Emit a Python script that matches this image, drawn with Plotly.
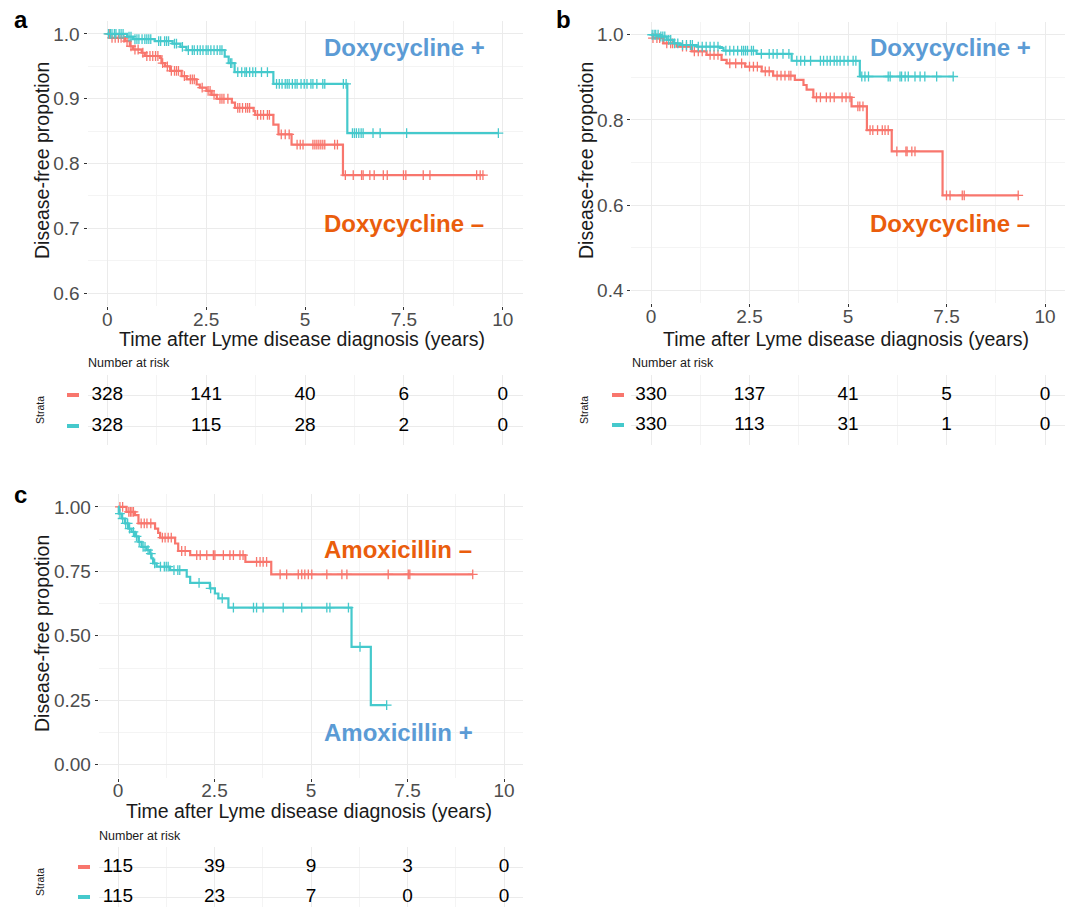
import plotly.graph_objects as go

# ---------------- data ----------------
RED = "#F8766D"
TEAL = "#45C9CC"
BLUE_TXT = "#5B9BD5"
ORANGE_TXT = "#EA5D0C"

x_ticks = [0, 2.5, 5, 7.5, 10]

# Panel a
a_minus_t = [0, 0.07, 0.45, 0.57, 0.65, 0.87, 0.95, 1.33, 1.37, 1.46, 1.59, 1.88, 2.01, 2.26, 2.34,
             2.51, 2.64, 2.77, 3.15, 3.23, 3.70, 3.74, 4.20, 4.33, 4.66, 5.96]
a_minus_s = [1.0, 0.994, 0.989, 0.981, 0.976, 0.971, 0.966, 0.963, 0.955, 0.950, 0.943, 0.935, 0.930,
             0.922, 0.917, 0.912, 0.906, 0.900, 0.894, 0.886, 0.881, 0.875, 0.860, 0.845, 0.829, 0.782]
a_minus_end = 9.50
a_minus_cens = [0.05, 0.12, 0.2, 0.28, 0.35, 0.42, 0.5, 0.6, 0.7, 0.78, 0.9, 1.0, 1.08, 1.15, 1.22, 1.28,
                1.4, 1.52, 1.62, 1.7, 1.75, 1.8, 1.95, 2.1, 2.15, 2.2, 2.4, 2.55, 2.6, 2.7, 2.85, 2.9,
                2.95, 3.05, 3.3, 3.35, 3.42, 3.5, 3.55, 3.6, 3.8, 3.88, 3.95, 4.05, 4.1, 4.4, 4.5, 4.6,
                4.8, 4.88, 4.95, 5.2, 5.25, 5.3, 5.35, 5.4, 5.45, 5.5, 5.75, 5.82, 6.02, 6.22, 6.43,
                6.47, 6.64, 6.75, 6.98, 7.08, 7.49, 7.55, 7.99, 8.16, 9.34, 9.43, 9.5]

a_plus_t = [0, 0.5, 0.65, 1.2, 1.65, 1.85, 2.0, 2.97, 3.07, 3.22, 4.2, 6.07]
a_plus_s = [1.0, 0.996, 0.992, 0.989, 0.985, 0.980, 0.975, 0.965, 0.955, 0.941, 0.923, 0.847]
a_plus_end = 9.89
a_plus_cens = [0.03, 0.08, 0.12, 0.18, 0.22, 0.3, 0.35, 0.4, 0.55, 0.6, 0.7, 0.75, 0.8, 0.88, 0.95,
               1.0, 1.05, 1.1, 1.3, 1.35, 1.45, 1.5, 1.55, 1.7, 1.75, 1.9, 2.05, 2.15, 2.2, 2.28,
               2.35, 2.42, 2.5, 2.55, 2.62, 2.7, 2.78, 2.85, 2.9, 3.12, 3.15, 3.3, 3.4, 3.48, 3.52,
               3.6, 3.68, 3.75, 3.9, 4.05, 4.28, 4.35, 4.42, 4.5, 4.55, 4.6, 4.68, 4.75, 4.8, 4.9,
               4.98, 5.05, 5.15, 5.2, 5.3, 5.45, 5.5, 5.97, 6.04, 6.2, 6.25, 6.3, 6.36, 6.42, 6.47,
               6.72, 6.9, 7.57, 9.89]
a_risk_minus = [328, 141, 40, 6, 0]
a_risk_plus = [328, 115, 28, 2, 0]

# Panel b
b_minus_t = [0, 0.05, 0.31, 0.65, 1.03, 1.41, 1.79, 1.92, 2.39, 2.81, 3.10, 3.65, 3.87, 3.95, 4.12,
             5.09, 5.48, 6.11, 7.40]
b_minus_s = [1.0, 0.992, 0.980, 0.972, 0.961, 0.953, 0.941, 0.933, 0.925, 0.914, 0.904, 0.894, 0.882,
             0.871, 0.853, 0.832, 0.776, 0.726, 0.623]
b_minus_end = 9.32
b_minus_cens = [0.05, 0.15, 0.22, 0.4, 0.5, 0.55, 0.8, 0.9, 1.1, 1.2, 1.3, 1.5, 1.6, 1.7, 2.0, 2.15,
                2.3, 2.5, 2.6, 2.7, 2.9, 3.0, 3.2, 3.3, 3.4, 3.5, 3.55, 4.2, 4.3, 4.45, 4.55, 4.65,
                4.85, 4.95, 5.05, 5.25, 5.3, 5.38, 5.56, 5.63, 5.75, 5.87, 5.94, 6.02, 6.24, 6.47,
                6.5, 6.62, 6.7, 7.5, 7.59, 7.9, 7.95, 9.32]

b_plus_t = [0, 0.23, 0.40, 0.57, 0.74, 1.16, 1.75, 1.84, 2.68, 3.57, 5.30]
b_plus_s = [1.0, 0.996, 0.988, 0.980, 0.976, 0.972, 0.969, 0.963, 0.955, 0.939, 0.902]
b_plus_end = 7.67
b_plus_cens = [0.03, 0.08, 0.12, 0.18, 0.25, 0.3, 0.35, 0.45, 0.5, 0.6, 0.68, 0.8, 0.9, 1.0, 1.05,
               1.2, 1.3, 1.4, 1.5, 1.6, 1.7, 1.9, 2.0, 2.1, 2.2, 2.3, 2.35, 2.4, 2.45, 2.55, 2.6,
               2.8, 3.0, 3.1, 3.2, 3.35, 3.5, 3.7, 3.8, 3.9, 4.05, 4.3, 4.38, 4.47, 4.55, 4.65,
               4.72, 4.8, 4.9, 5.0, 5.13, 5.2, 5.35, 5.43, 5.52, 6.02, 6.07, 6.32, 6.36, 6.45, 6.53,
               6.7, 6.83, 6.95, 7.25, 7.67]
b_risk_minus = [330, 137, 41, 5, 0]
b_risk_plus = [330, 113, 31, 1, 0]

# Panel c
c_minus_t = [0, 0.22, 0.44, 0.53, 0.96, 1.04, 1.09, 1.48, 1.56, 1.87, 3.30, 3.97]
c_minus_s = [1.0, 0.981, 0.968, 0.936, 0.916, 0.899, 0.881, 0.858, 0.829, 0.813, 0.787, 0.738]
c_minus_end = 9.19
c_minus_cens = [0.05, 0.12, 0.28, 0.32, 0.36, 0.4, 0.6, 0.68, 0.75, 0.85, 1.15, 1.22, 1.3, 1.38,
                1.65, 1.74, 2.04, 2.13, 2.3, 2.47, 2.51, 2.73, 2.9, 2.99, 3.16, 3.24, 3.59, 3.68,
                3.76, 3.85, 4.2, 4.37, 4.67, 4.76, 4.84, 4.93, 5.02, 5.41, 5.8, 5.93, 7.0, 7.52,
                7.56, 9.19]

c_plus_t = [0, 0.02, 0.1, 0.18, 0.27, 0.35, 0.44, 0.53, 0.61, 0.74, 0.83, 0.87, 0.91, 1.0, 1.35,
            1.78, 1.87, 2.38, 2.51, 2.60, 2.86, 6.05, 6.55]
c_plus_s = [1.0, 0.974, 0.955, 0.936, 0.916, 0.903, 0.886, 0.864, 0.845, 0.832, 0.819, 0.800, 0.781,
            0.768, 0.755, 0.729, 0.705, 0.684, 0.664, 0.645, 0.609, 0.457, 0.231]
c_plus_end = 6.96
c_plus_cens = [0.05, 0.12, 0.2, 0.25, 0.3, 0.4, 0.48, 0.55, 0.65, 0.7, 0.78, 0.85, 0.95, 1.1, 1.2,
               1.25, 1.3, 1.45, 1.55, 1.6, 2.1, 2.4, 2.7, 2.99, 3.51, 3.59, 3.76, 4.28, 4.76, 5.41,
               5.49, 5.97, 6.27, 6.96]
c_risk_minus = [115, 39, 9, 3, 0]
c_risk_plus = [115, 23, 7, 0, 0]

# ---------------- helpers ----------------
W, H = 1072, 907
FONT = "Liberation Sans, Arial, Helvetica, sans-serif"


def fx(px):
    return px / W


def fy(py):
    return 1 - py / H


def step_at(ts, ss, t):
    val = ss[0]
    for ti, si in zip(ts, ss):
        if ti <= t:
            val = si
        else:
            break
    return val


fig = go.Figure()


def add_curve(ts, ss, end, cens, color, xa, ya):
    fig.add_trace(go.Scatter(x=ts + [end], y=ss + [ss[-1]], mode="lines",
                             line=dict(color=color, width=2.2, shape="hv"),
                             xaxis=xa, yaxis=ya, hoverinfo="skip"))
    fig.add_trace(go.Scatter(x=cens, y=[step_at(ts, ss, c) for c in cens], mode="markers",
                             marker=dict(symbol="cross-thin", size=7,
                                         line=dict(color=color, width=1.3)),
                             xaxis=xa, yaxis=ya, hoverinfo="skip"))


def add_table(minus, plus, xa, ya):
    fig.add_trace(go.Scatter(x=x_ticks, y=[2] * 5, mode="text", text=[str(v) for v in minus],
                             textfont=dict(size=19, color="#000000", family=FONT),
                             textposition="middle center", cliponaxis=False,
                             xaxis=xa, yaxis=ya, hoverinfo="skip"))
    fig.add_trace(go.Scatter(x=x_ticks, y=[1] * 5, mode="text", text=[str(v) for v in plus],
                             textfont=dict(size=19, color="#000000", family=FONT),
                             textposition="middle center", cliponaxis=False,
                             xaxis=xa, yaxis=ya, hoverinfo="skip"))


add_curve(a_minus_t, a_minus_s, a_minus_end, a_minus_cens, RED, "x", "y")
add_curve(a_plus_t, a_plus_s, a_plus_end, a_plus_cens, TEAL, "x", "y")
add_table(a_risk_minus, a_risk_plus, "x2", "y2")
add_curve(b_minus_t, b_minus_s, b_minus_end, b_minus_cens, RED, "x3", "y3")
add_curve(b_plus_t, b_plus_s, b_plus_end, b_plus_cens, TEAL, "x3", "y3")
add_table(b_risk_minus, b_risk_plus, "x4", "y4")
add_curve(c_minus_t, c_minus_s, c_minus_end, c_minus_cens, RED, "x5", "y5")
add_curve(c_plus_t, c_plus_s, c_plus_end, c_plus_cens, TEAL, "x5", "y5")
add_table(c_risk_minus, c_risk_plus, "x6", "y6")

GRID = "#EBEBEB"
MINOR = "#F4F4F4"
TICKFONT = dict(size=19, color="#4D4D4D", family=FONT)


def xaxis_main(x0, x1, y_anchor):
    return dict(domain=[fx(x0), fx(x1)], range=[-0.5, 10.5], anchor=y_anchor,
                tickmode="linear", tick0=0, dtick=2.5, showgrid=True, gridcolor=GRID, gridwidth=1,
                minor=dict(tick0=0, dtick=1.25, showgrid=True, gridcolor=MINOR, gridwidth=0.6),
                zeroline=False, showline=False, ticks="outside", ticklen=3, tickwidth=0.7,
                tickcolor="#333333", tickfont=TICKFONT, ticklabelstandoff=-7, fixedrange=True)


def yaxis_main(y0, y1, rng, tick0, dtick, mdtick, fmt, x_anchor):
    return dict(domain=[fy(y1), fy(y0)], range=rng, anchor=x_anchor,
                tickmode="linear", tick0=tick0, dtick=dtick, tickformat=fmt,
                showgrid=True, gridcolor=GRID, gridwidth=1,
                minor=dict(tick0=tick0, dtick=mdtick, showgrid=True, gridcolor=MINOR, gridwidth=0.6),
                zeroline=False, showline=False, ticks="outside", ticklen=3, tickwidth=0.7,
                tickcolor="#333333", tickfont=TICKFONT, fixedrange=True)


def xaxis_table(x0, x1, y_anchor):
    return dict(domain=[fx(x0), fx(x1)], range=[-0.5, 10.5], anchor=y_anchor,
                tickmode="linear", tick0=0, dtick=2.5, showgrid=True, gridcolor=GRID, gridwidth=1,
                minor=dict(tick0=0, dtick=1.25, showgrid=True, gridcolor=MINOR, gridwidth=0.6),
                showticklabels=False, ticks="", zeroline=False, showline=False, fixedrange=True)


def yaxis_table(y0, y1, rng, x_anchor):
    return dict(domain=[fy(y1), fy(y0)], range=rng, anchor=x_anchor,
                tickmode="array", tickvals=[1, 2], showgrid=True, gridcolor=GRID, gridwidth=1,
                showticklabels=False, ticks="", zeroline=False, showline=False, fixedrange=True)


fig.update_layout(
    width=W, height=H, margin=dict(l=0, r=0, t=0, b=0),
    paper_bgcolor="white", plot_bgcolor="white", showlegend=False,
    font=dict(family=FONT, color="#000000"),
    xaxis=xaxis_main(87.5, 522.5, "y"),
    yaxis=yaxis_main(21, 306, [0.58, 1.02], 0.6, 0.1, 0.05, ".1f", "x"),
    xaxis2=xaxis_table(87.5, 522.5, "y2"),
    yaxis2=yaxis_table(375, 445, [1 - 19 / 31, 2 + 20 / 31], "x2"),
    xaxis3=xaxis_main(631.3, 1064.7, "y3"),
    yaxis3=yaxis_main(22, 303, [0.37, 1.03], 0.4, 0.2, 0.1, ".1f", "x3"),
    xaxis4=xaxis_table(631.3, 1064.7, "y4"),
    yaxis4=yaxis_table(375, 445, [1 - 20 / 30, 2 + 20 / 30], "x4"),
    xaxis5=xaxis_main(98.7, 523.3, "y5"),
    yaxis5=yaxis_main(494, 777.6, [-0.05, 1.05], 0, 0.25, 0.125, ".2f", "x5"),
    xaxis6=xaxis_table(98.7, 523.3, "y6"),
    yaxis6=yaxis_table(847, 907, [1 - 10 / 30, 2 + 20 / 30], "x6"),
)

ann = []


def text(px, py, s, size, color="#000000", bold=False, angle=0, xanchor="center"):
    ann.append(dict(x=fx(px), y=fy(py), xref="paper", yref="paper", showarrow=False,
                    text=("<b>%s</b>" % s) if bold else s, textangle=angle,
                    xanchor=xanchor, yanchor="middle",
                    font=dict(size=size, color=color, family=FONT)))


# panel letters
text(21, 20, "a", 24, bold=True)
text(563, 20, "b", 24, bold=True)
text(20, 494, "c", 24, bold=True)

# axis titles
XT = "Time after Lyme disease diagnosis (years)"
YT = "Disease-free propotion"
text(302, 339, XT, 19.5, "#1A1A1A")
text(846, 339, XT, 19.5, "#1A1A1A")
text(309, 811, XT, 19.5, "#1A1A1A")
text(42, 161, YT, 19.5, "#1A1A1A", angle=-90)
text(586, 161, YT, 19.5, "#1A1A1A", angle=-90)
text(42, 634, YT, 19.5, "#1A1A1A", angle=-90)

# group labels
text(404, 48, "Doxycycline +", 24, BLUE_TXT, bold=True)
text(404, 223, "Doxycycline –", 24, ORANGE_TXT, bold=True)
text(950, 48, "Doxycycline +", 24, BLUE_TXT, bold=True)
text(950, 223, "Doxycycline –", 24, ORANGE_TXT, bold=True)
text(398, 549, "Amoxicillin –", 24, ORANGE_TXT, bold=True)
text(398, 732, "Amoxicillin +", 24, BLUE_TXT, bold=True)

# risk table labels
text(86, 363, "Number at risk", 12.5, "#1A1A1A", xanchor="left")
text(630, 363, "Number at risk", 12.5, "#1A1A1A", xanchor="left")
text(97, 836, "Number at risk", 12.5, "#1A1A1A", xanchor="left")
text(40, 410, "Strata", 10.5, "#1A1A1A", angle=-90)
text(584, 410, "Strata", 10.5, "#1A1A1A", angle=-90)
text(40, 882, "Strata", 10.5, "#1A1A1A", angle=-90)

fig.update_layout(annotations=ann)

# strata colour keys next to the risk tables
shapes = []
for (x0, x1, yref) in [(67, 79, "y2"), (612, 624, "y4"), (78, 90, "y6")]:
    shapes.append(dict(type="line", xref="paper", yref=yref, x0=fx(x0), x1=fx(x1), y0=2, y1=2,
                       line=dict(color=RED, width=4)))
    shapes.append(dict(type="line", xref="paper", yref=yref, x0=fx(x0), x1=fx(x1), y0=1, y1=1,
                       line=dict(color=TEAL, width=4)))
fig.update_layout(shapes=shapes)

fig.write_html("out.html", config={"displayModeBar": False},
               post_script="document.body.style.margin='0px';document.body.style.overflow='hidden';")
